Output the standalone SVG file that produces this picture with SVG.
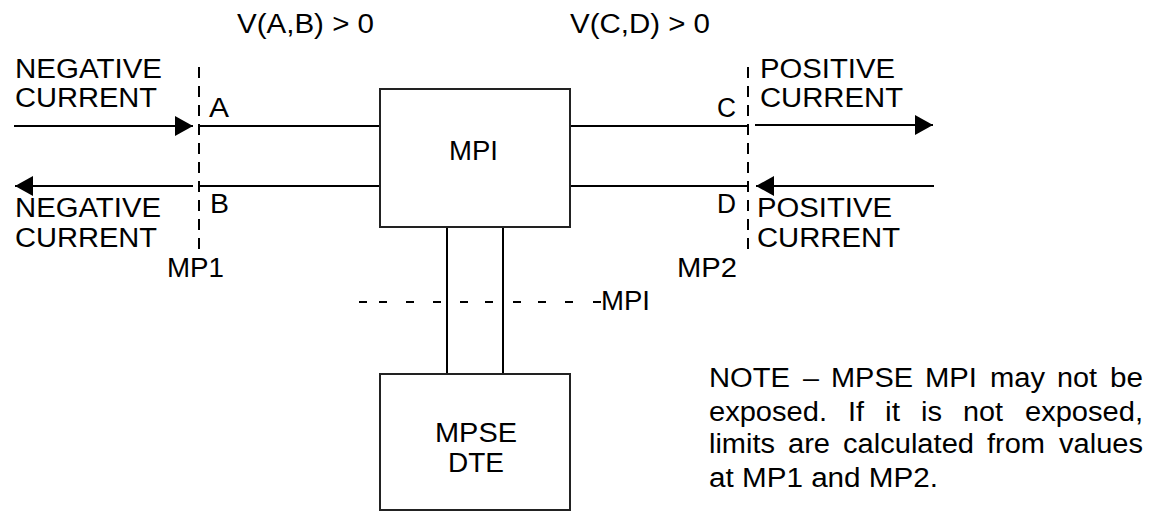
<svg xmlns="http://www.w3.org/2000/svg" width="1152" height="512" viewBox="0 0 1152 512">
<style>
text{font-family:"Liberation Sans",Arial,sans-serif;font-size:27px;fill:#000}
.ln{stroke:#000;stroke-width:2;fill:none}
.dash{stroke:#000;stroke-width:2;fill:none;stroke-dasharray:11 8}
.box{stroke:#222;stroke-width:2;fill:#fff}
</style>
<defs>
<marker id="ah" viewBox="0 0 18 20" refX="18" refY="10" markerWidth="18" markerHeight="20" markerUnits="userSpaceOnUse" orient="auto">
<path d="M0,0 L18,10 L0,20 Z" fill="#000"/>
</marker>
</defs>
<g id="connectors">
<line class="ln" x1="14" y1="126" x2="193" y2="126" marker-end="url(#ah)"/>
<line class="ln" x1="193" y1="186" x2="15" y2="186" marker-end="url(#ah)"/>
<line class="ln" x1="200" y1="126" x2="380" y2="126"/>
<line class="ln" x1="200" y1="186" x2="380" y2="186"/>
<line class="ln" x1="570" y1="126" x2="749" y2="126"/>
<line class="ln" x1="570" y1="186" x2="749" y2="186"/>
<line class="ln" x1="755" y1="125" x2="933" y2="125" marker-end="url(#ah)"/>
<line class="ln" x1="934" y1="186" x2="756" y2="186" marker-end="url(#ah)"/>
<line class="ln" x1="447" y1="228" x2="447" y2="374"/>
<line class="ln" x1="503" y1="228" x2="503" y2="375"/>
</g>
<g id="mp1">
<line class="dash" x1="199" y1="67" x2="199" y2="251"/>
<text x="167" y="277" textLength="57" lengthAdjust="spacingAndGlyphs">MP1</text>
</g>
<g id="mp2">
<line class="dash" x1="748" y1="67" x2="748" y2="251"/>
<text x="677" y="277" textLength="60" lengthAdjust="spacingAndGlyphs">MP2</text>
</g>
<g id="mpi-line">
<path class="ln" d="M359,302h8M379,302h8M406,302h8M433,302h8M460,302h8M485,302h8M513,302h8M538,302h8M565,302h8M593,302h8"/>
<text x="601" y="310" textLength="49" lengthAdjust="spacingAndGlyphs">MPI</text>
</g>
<g id="labels">
<text x="237" y="33" textLength="137" lengthAdjust="spacingAndGlyphs">V(A,B) &gt; 0</text>
<text x="570" y="33" textLength="140" lengthAdjust="spacingAndGlyphs">V(C,D) &gt; 0</text>
<text x="15" y="78" textLength="147" lengthAdjust="spacingAndGlyphs">NEGATIVE</text>
<text x="15" y="107" textLength="142" lengthAdjust="spacingAndGlyphs">CURRENT</text>
<text x="15" y="217" textLength="146" lengthAdjust="spacingAndGlyphs">NEGATIVE</text>
<text x="15" y="247" textLength="142" lengthAdjust="spacingAndGlyphs">CURRENT</text>
<text x="760" y="78" textLength="135" lengthAdjust="spacingAndGlyphs">POSITIVE</text>
<text x="760" y="107" textLength="143" lengthAdjust="spacingAndGlyphs">CURRENT</text>
<text x="757" y="217" textLength="135" lengthAdjust="spacingAndGlyphs">POSITIVE</text>
<text x="757" y="247" textLength="143" lengthAdjust="spacingAndGlyphs">CURRENT</text>
<text x="209" y="117" textLength="20" lengthAdjust="spacingAndGlyphs">A</text>
<text x="210" y="213" textLength="19" lengthAdjust="spacingAndGlyphs">B</text>
<text x="717" y="117" textLength="19" lengthAdjust="spacingAndGlyphs">C</text>
<text x="717" y="213" textLength="19" lengthAdjust="spacingAndGlyphs">D</text>
</g>
<g id="mpi">
<rect class="box" x="380" y="89" width="190" height="138"/>
<text x="449" y="160" textLength="49" lengthAdjust="spacingAndGlyphs">MPI</text>
</g>
<g id="mpse-dte">
<rect class="box" x="380" y="374" width="190" height="136"/>
<text x="435" y="442" textLength="82" lengthAdjust="spacingAndGlyphs">MPSE</text>
<text x="448" y="472" textLength="56" lengthAdjust="spacingAndGlyphs">DTE</text>
</g>
<g id="note">
<text x="709" y="387" textLength="81" lengthAdjust="spacingAndGlyphs">NOTE</text>
<text x="803" y="387" textLength="16" lengthAdjust="spacingAndGlyphs">–</text>
<text x="831" y="387" textLength="82" lengthAdjust="spacingAndGlyphs">MPSE</text>
<text x="925" y="387" textLength="52" lengthAdjust="spacingAndGlyphs">MPI</text>
<text x="990" y="387" textLength="55" lengthAdjust="spacingAndGlyphs">may</text>
<text x="1057" y="387" textLength="40" lengthAdjust="spacingAndGlyphs">not</text>
<text x="1110" y="387" textLength="33" lengthAdjust="spacingAndGlyphs">be</text>
<text x="709" y="421" textLength="118" lengthAdjust="spacingAndGlyphs">exposed.</text>
<text x="848" y="421" textLength="16" lengthAdjust="spacingAndGlyphs">If</text>
<text x="885" y="421" textLength="15" lengthAdjust="spacingAndGlyphs">it</text>
<text x="921" y="421" textLength="21" lengthAdjust="spacingAndGlyphs">is</text>
<text x="963" y="421" textLength="40" lengthAdjust="spacingAndGlyphs">not</text>
<text x="1025" y="421" textLength="118" lengthAdjust="spacingAndGlyphs">exposed,</text>
<text x="709" y="453" textLength="66" lengthAdjust="spacingAndGlyphs">limits</text>
<text x="788" y="453" textLength="42" lengthAdjust="spacingAndGlyphs">are</text>
<text x="843" y="453" textLength="131" lengthAdjust="spacingAndGlyphs">calculated</text>
<text x="987" y="453" textLength="58" lengthAdjust="spacingAndGlyphs">from</text>
<text x="1059" y="453" textLength="84" lengthAdjust="spacingAndGlyphs">values</text>
<text x="709" y="487" textLength="229" lengthAdjust="spacingAndGlyphs">at MP1 and MP2.</text>
</g>
</svg>
